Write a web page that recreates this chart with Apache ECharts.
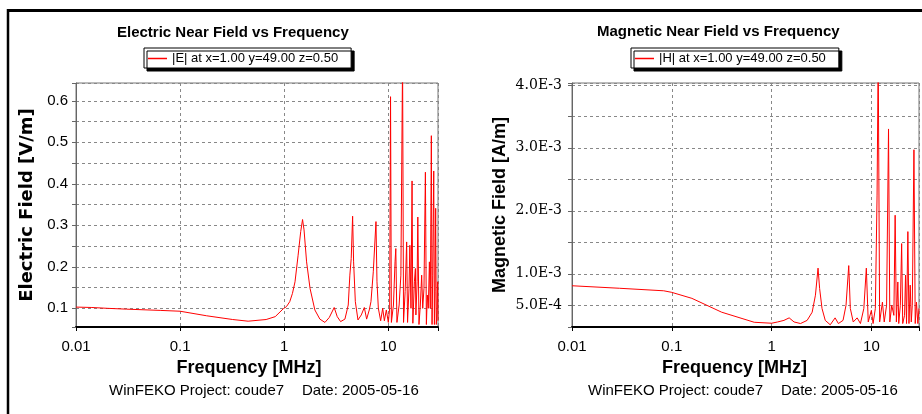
<!DOCTYPE html>
<html>
<head>
<meta charset="utf-8">
<script src="https://cdn.jsdelivr.net/npm/echarts@6/dist/echarts.min.js"></script>
<style>
  html, body { margin: 0; padding: 0; background: #fff; }
  #chart { width: 922px; height: 414px; }
</style>
</head>
<body>
<div id="chart"></div>
<script>
// values
const eName = '|E| at x=1.00 y=49.00 z=0.50';
const hName = '|H| at x=1.00 y=49.00 z=0.50';

const eFreq = [0.01, 0.0142, 0.02, 0.0307, 0.0643, 0.1, 0.18, 0.32, 0.45, 0.67, 0.82, 0.98,
  1.05, 1.13, 1.20, 1.27, 1.36, 1.44, 1.50, 1.55, 1.64, 1.77, 1.97, 2.20, 2.46, 2.71,
  3.02, 3.23, 3.48, 3.83, 4.12, 4.27, 4.40, 4.54, 4.64, 4.82, 5.11, 5.50, 5.88, 6.19,
  6.56, 6.81, 7.17, 7.61, 7.78, 8.02, 8.44, 8.83, 9.16, 9.57, 10.0, 10.3, 10.5, 10.7,
  11.2, 11.6, 11.8, 12.1, 12.7, 13.2, 13.7, 14.0, 14.5, 15.0, 15.3, 15.8, 16.1, 16.5,
  16.9, 17.2, 17.8, 18.2, 18.4, 18.9, 19.2, 19.7, 20.3, 20.9, 21.4, 22.0, 22.7, 23.2,
  23.7, 24.2, 24.8, 25.3, 25.9, 26.3, 26.7, 27.3, 27.7, 28.1, 28.5, 28.9, 29.4, 29.8, 30];
const eField = [0.103, 0.102, 0.100, 0.098, 0.095, 0.093, 0.082, 0.073, 0.069, 0.073, 0.080, 0.099,
  0.104, 0.116, 0.136, 0.164, 0.228, 0.285, 0.314, 0.289, 0.212, 0.148, 0.096, 0.074, 0.066, 0.078,
  0.102, 0.080, 0.068, 0.074, 0.108, 0.180, 0.220, 0.322, 0.212, 0.116, 0.072, 0.084, 0.102, 0.074,
  0.096, 0.116, 0.188, 0.309, 0.164, 0.100, 0.070, 0.100, 0.070, 0.096, 0.066, 0.100, 0.610, 0.066,
  0.108, 0.212, 0.244, 0.066, 0.108, 0.180, 0.700, 0.066, 0.140, 0.260, 0.066, 0.148, 0.252, 0.100,
  0.407, 0.064, 0.164, 0.196, 0.084, 0.164, 0.320, 0.061, 0.108, 0.180, 0.100, 0.148, 0.428, 0.061,
  0.132, 0.100, 0.212, 0.100, 0.516, 0.061, 0.180, 0.431, 0.061, 0.140, 0.341, 0.061, 0.100, 0.164, 0.070];

const hFreq = [0.01, 0.03, 0.083, 0.1, 0.159, 0.316, 0.67, 1.0, 1.15, 1.33, 1.5, 1.68, 1.95,
  2.27, 2.55, 2.75, 2.92, 3.03, 3.2, 3.45, 3.87, 4.33, 4.67, 5.2, 5.57, 5.93, 6.15, 6.58,
  7.2, 7.77, 8.4, 8.9, 9.3, 10.0, 10.4, 10.96, 11.4, 11.7, 12.1, 12.9, 13.45, 14.2, 14.85,
  15.3, 16.0, 16.8, 17.3, 17.8, 18.4, 18.8, 19.5, 20.1, 20.6, 21.5, 22.0, 22.5, 23.2, 23.8,
  24.5, 25.1, 25.7, 26.7, 27.5, 28.3, 29.2, 30];
const hField = [8.1e-4, 7.7e-4, 7.3e-4, 7.05e-4, 6.1e-4, 3.9e-4, 2.3e-4, 2.15e-4, 2.35e-4, 2.6e-4, 3.0e-4, 2.35e-4, 2.1e-4,
  2.6e-4, 3.9e-4, 6.6e-4, 1.09e-3, 7.65e-4, 4.5e-4, 2.6e-4, 1.9e-4, 3.0e-4, 2.1e-4, 2.6e-4, 5.0e-4, 1.13e-3, 4.5e-4, 2.35e-4,
  3.0e-4, 2.1e-4, 4.5e-4, 1.09e-3, 2.35e-4, 4.2e-4, 2.1e-4, 4.5e-4, 2.25e-3, 4.5e-3, 2.35e-4, 5.5e-4, 2.35e-4, 5.0e-4, 3.3e-3,
  2.35e-4, 5.0e-4, 3.4e-4, 1.93e-3, 2.35e-4, 8.7e-4, 2.1e-4, 5.0e-4, 1.48e-3, 2.1e-4, 3.4e-4, 9.8e-4, 2.1e-4, 1.67e-3, 2.1e-4,
  8.2e-4, 2.35e-4, 5.0e-4, 2.97e-3, 2.1e-4, 5.5e-4, 2.1e-4, 4.5e-4];

const xTickLabels = ['0.01', '0.1', '1', '10'];
const eTickLabels = ['0.1', '0.2', '0.3', '0.4', '0.5', '0.6'];
const hTickLabels = ['5.0E-4', '1.0E-3', '2.0E-3', '3.0E-3', '4.0E-3'];

const chart = echarts.init(document.getElementById('chart'), null, { renderer: 'canvas' });

function pickLabel(list, v) {
  for (const s of list) {
    const t = parseFloat(s);
    if (Math.abs(t - v) <= Math.abs(t) * 1e-6) return s;
  }
  return '';
}

const gridLine = { show: true, lineStyle: { type: [3, 3], color: '#888', width: 1 } };

function xAxis(idx, pad) {
  return {
    type: 'log', logBase: 10, gridIndex: idx, min: 0.01, max: 30,
    axisLine: { show: true, onZero: false, lineStyle: { color: '#000', width: 2 } },
    axisTick: { show: true, length: 4, lineStyle: { color: '#000' } },
    axisLabel: { fontSize: 15, color: '#000', margin: 12, formatter: v => pickLabel(xTickLabels, v) },
    splitLine: gridLine,
    name: 'Frequency [MHz]', nameLocation: 'middle', nameGap: 27,
    nameTextStyle: { fontSize: 18, fontWeight: 'bold', color: '#000', padding: [0, pad, 0, 0] }
  };
}

const option = {
  animation: false,
  backgroundColor: '#fff',
  textStyle: { fontFamily: 'Liberation Sans, Arial, sans-serif' },
  title: [
    { text: 'Electric Near Field vs Frequency', left: 117, top: 25, padding: 0,
      textStyle: { fontSize: 15, fontWeight: 'bold', color: '#000' } },
    { text: 'Magnetic Near Field vs Frequency', left: 597, top: 24, padding: 0,
      textStyle: { fontSize: 15, fontWeight: 'bold', color: '#000' } }
  ],
  legend: [
    { data: [eName], left: 144, top: 48 },
    { data: [hName], left: 631, top: 48 }
  ].map(l => Object.assign(l, {
    icon: 'rect', itemWidth: 19, itemHeight: 1.5, padding: [4, 13, 3, 4],
    backgroundColor: '#fff', borderColor: '#000', borderWidth: 1,
    shadowColor: '#000', shadowBlur: 0, shadowOffsetX: 3, shadowOffsetY: 3,
    textStyle: { fontSize: 13, color: '#000' }, selectedMode: false
  })),
  grid: [
    { left: 76, top: 83, width: 362, height: 244, show: true, borderColor: '#777', borderWidth: 1 },
    { left: 572, top: 83, width: 353, height: 244, show: true, borderColor: '#777', borderWidth: 1 }
  ],
  xAxis: [xAxis(0, 16), xAxis(1, 22)],
  yAxis: [
    {
      type: 'value', gridIndex: 0, min: 0.055, max: 0.643, minInterval: 0.05, maxInterval: 0.05, splitNumber: 12,
      axisLine: { show: true, lineStyle: { color: '#666', width: 1 } },
      axisTick: { show: true, length: 4, lineStyle: { color: '#666' } },
      axisLabel: { fontSize: 15, color: '#000', margin: 8, formatter: v => pickLabel(eTickLabels, v) },
      splitLine: gridLine,
      name: 'Electric Field [V/m]', nameLocation: 'middle', nameGap: 40,
      nameTextStyle: { fontSize: 18, fontWeight: 'bold', color: '#000', fontFamily: 'DejaVu Sans' }
    },
    {
      type: 'value', gridIndex: 1, min: 1.55e-4, max: 4.03e-3, minInterval: 5e-4, maxInterval: 5e-4, splitNumber: 8,
      axisLine: { show: true, lineStyle: { color: '#666', width: 1 } },
      axisTick: { show: true, length: 4, lineStyle: { color: '#666' } },
      axisLabel: { fontSize: 14, color: '#000', margin: 10, fontFamily: 'DejaVu Serif',
        formatter: v => pickLabel(hTickLabels, v) },
      splitLine: gridLine,
      name: 'Magnetic Field [A/m]', nameLocation: 'middle', nameGap: 63,
      nameTextStyle: { fontSize: 18, fontWeight: 'bold', color: '#000' }
    }
  ],
  series: [
    { type: 'line', name: eName, xAxisIndex: 0, yAxisIndex: 0, symbol: 'none', clip: true,
      data: eFreq.map((f, i) => [f, eField[i]]),
      lineStyle: { color: '#ff0000', width: 1 }, itemStyle: { color: '#ff0000' } },
    { type: 'line', name: hName, xAxisIndex: 1, yAxisIndex: 1, symbol: 'none', clip: true,
      data: hFreq.map((f, i) => [f, hField[i]]),
      lineStyle: { color: '#ff0000', width: 1 }, itemStyle: { color: '#ff0000' } }
  ],
  graphic: [
    { type: 'line', shape: { x1: 7, y1: 10.5, x2: 922, y2: 10.5 }, style: { stroke: '#000', lineWidth: 3 } },
    { type: 'line', shape: { x1: 8, y1: 9, x2: 8, y2: 414 }, style: { stroke: '#000', lineWidth: 2.5 } },
    { type: 'text', left: 109, top: 383, style: { text: 'WinFEKO Project: coude7', fontSize: 15, fill: '#000', fontFamily: 'Liberation Sans, Arial, sans-serif' } },
    { type: 'text', left: 302, top: 383, style: { text: 'Date: 2005-05-16', fontSize: 15, fill: '#000', fontFamily: 'Liberation Sans, Arial, sans-serif' } },
    { type: 'text', left: 588, top: 383, style: { text: 'WinFEKO Project: coude7', fontSize: 15, fill: '#000', fontFamily: 'Liberation Sans, Arial, sans-serif' } },
    { type: 'text', left: 781, top: 383, style: { text: 'Date: 2005-05-16', fontSize: 15, fill: '#000', fontFamily: 'Liberation Sans, Arial, sans-serif' } }
  ]
};

chart.setOption(option);
</script>
</body>
</html>
